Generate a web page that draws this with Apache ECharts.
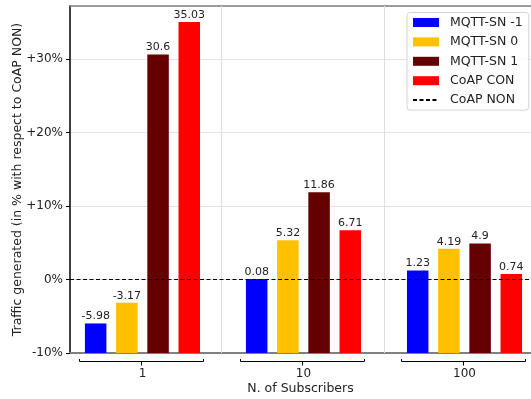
<!DOCTYPE html>
<html>
<head>
<meta charset="utf-8">
<script src="https://cdn.jsdelivr.net/npm/echarts@6/dist/echarts.min.js"></script>
<style>
  html, body { margin: 0; padding: 0; background: #fff; }
  #chart { width: 531px; height: 399px; }
</style>
</head>
<body>
<div id="chart"></div>
<script>
// Subscriber counts (one group of bars each)
const groups = ['1', '10', '100'];
// Protocol variants
const seriesNames = ['MQTT-SN -1', 'MQTT-SN 0', 'MQTT-SN 1', 'CoAP CON'];
// Extra traffic in % relative to CoAP NON
const mqttSnMinus1 = [-5.98, 0.08, 1.23];
const mqttSn0 = [-3.17, 5.32, 4.19];
const mqttSn1 = [30.6, 11.86, 4.9];
const coapCon = [35.03, 6.71, 0.74];
// CoAP NON is the reference level
const coapNonLevel = 0;
const groupSeparators = [0.49, 1.5];

const colors = ['#0000ff', '#ffc000', '#640000', '#ff0000'];
const FONT = 'DejaVu Sans';
const TEXT = '#222';
const Y_MIN = -10, Y_MAX = 37.2;
const X_MIN = -0.45, X_MAX = 2.413;
const BAR_W = 21.5, BAR_STEP = 31.2;

function barSeries(name, values, idx) {
  return {
    type: 'custom',
    name: name,
    z: 3,
    clip: false,
    itemStyle: { color: colors[idx] },
    encode: { x: 0, y: 1 },
    data: values.map((v, g) => [g, v]),
    renderItem(params, api) {
      const g = api.value(0), v = api.value(1);
      const base = api.coord([g, Y_MIN]);
      const top = api.coord([g, v]);
      const cx = base[0] + (idx - 1.5) * BAR_STEP;
      return {
        type: 'group',
        children: [
          {
            type: 'rect',
            shape: { x: cx - BAR_W / 2, y: top[1], width: BAR_W, height: base[1] - top[1] },
            style: { fill: colors[idx] }
          },
          {
            type: 'text',
            x: cx, y: top[1] - 1.5,
            style: {
              text: String(v), fill: TEXT, fontSize: 11, fontFamily: FONT,
              align: 'center', verticalAlign: 'bottom'
            }
          }
        ]
      };
    }
  };
}

// Bracket under each group of bars
const bracketSeries = {
  type: 'custom',
  name: 'brackets',
  silent: true,
  clip: false,
  z: 1,
  encode: { x: 0, y: 1 },
  data: groups.map((_, g) => [g, Y_MIN]),
  renderItem(params, api) {
    const p = api.coord([api.value(0), Y_MIN]);
    const half = 62;
    const y0 = Math.round(p[1]) + 8.5;
    const cx = Math.round(p[0]) - 0.5;
    return {
      type: 'group',
      children: [
        {
          type: 'polyline',
          shape: { points: [[cx - half, y0 - 2.5], [cx - half, y0], [cx + half, y0], [cx + half, y0 - 2.5]] },
          style: { stroke: '#000', lineWidth: 1, fill: null }
        },
        {
          type: 'line',
          shape: { x1: cx, y1: y0, x2: cx, y2: y0 + 4 },
          style: { stroke: '#000', lineWidth: 1 }
        }
      ]
    };
  },
  markLine: {
    silent: true,
    symbol: 'none',
    label: { show: false },
    lineStyle: { type: 'solid', color: '#dedede', width: 1 },
    data: groupSeparators.map(x => ({ xAxis: x }))
  }
};

const chart = echarts.init(document.getElementById('chart'), null, { renderer: 'canvas' });
chart.setOption({
  animation: false,
  backgroundColor: '#fff',
  textStyle: { fontFamily: FONT },
  grid: { left: 70, right: 0, top: 6, bottom: 46, containLabel: false, outerBoundsMode: 'none' },
  legend: {
    orient: 'vertical',
    left: 407,
    top: 12.5,
    data: seriesNames.map(n => ({ name: n, icon: 'rect' })).concat([
      { name: 'CoAP NON', itemStyle: { opacity: 0, color: 'rgba(0,0,0,0)', borderWidth: 0 } }
    ]),
    itemWidth: 26,
    itemHeight: 9,
    itemGap: 5.4,
    padding: [3, 6, 3, 5],
    backgroundColor: 'rgba(255,255,255,0.85)',
    borderColor: '#d4d4d4',
    borderWidth: 1,
    borderRadius: 3,
    textStyle: { fontFamily: FONT, fontSize: 12.5, color: TEXT, lineHeight: 14, padding: [0, 0, 0, 6] }
  },
  xAxis: [
    {
      type: 'value',
      min: X_MIN, max: X_MAX,
      axisLine: { show: true, onZero: false, lineStyle: { color: '#808080', width: 2 } },
      axisTick: { show: false },
      splitLine: { show: false },
      axisLabel: {
        customValues: [0, 1, 2],
        formatter: v => groups[Math.round(v)],
        margin: 15,
        color: TEXT, fontSize: 12, fontFamily: FONT
      },
      name: 'N. of Subscribers',
      nameLocation: 'middle',
      nameGap: 29,
      nameMoveOverlap: false,
      nameTextStyle: { color: TEXT, fontSize: 12.5, fontFamily: FONT }
    },
    {
      type: 'value',
      position: 'top',
      min: X_MIN, max: X_MAX,
      axisLine: { show: true, onZero: false, lineStyle: { color: '#808080', width: 1.5 } },
      axisTick: { show: false },
      axisLabel: { show: false },
      splitLine: { show: false }
    }
  ],
  yAxis: {
    type: 'value',
    min: Y_MIN, max: Y_MAX, interval: 10,
    axisLine: { show: true, onZero: false, lineStyle: { color: '#000', width: 1.5 } },
    axisTick: { show: true, length: 4, lineStyle: { color: '#000' } },
    axisLabel: {
      showMaxLabel: false,
      formatter: v => (v > 0 ? '+' + v + '%' : v + '%'),
      margin: 7,
      color: TEXT, fontSize: 12, fontFamily: FONT
    },
    splitLine: { show: true, lineStyle: { color: '#e3e3e3', width: 1 } },
    name: 'Traffic generated (in % with respect to CoAP NON)',
    nameLocation: 'middle',
    nameGap: 46,
    nameMoveOverlap: false,
    nameTextStyle: { color: TEXT, fontSize: 12.5, fontFamily: FONT }
  },
  series: [
    bracketSeries,
    {
      type: 'line',
      name: 'CoAP NON',
      data: [],
      symbol: 'none',
      z: 2,
      itemStyle: { color: '#000' },
      lineStyle: { type: [4, 2.5], color: '#000', width: 1 },
      markLine: {
        silent: true,
        symbol: 'none',
        label: { show: false },
        lineStyle: { type: [4, 2.5], color: '#000', width: 1 },
        data: [{ yAxis: coapNonLevel }]
      }
    },
    barSeries(seriesNames[0], mqttSnMinus1, 0),
    barSeries(seriesNames[1], mqttSn0, 1),
    barSeries(seriesNames[2], mqttSn1, 2),
    barSeries(seriesNames[3], coapCon, 3)
  ]
});
</script>
</body>
</html>
